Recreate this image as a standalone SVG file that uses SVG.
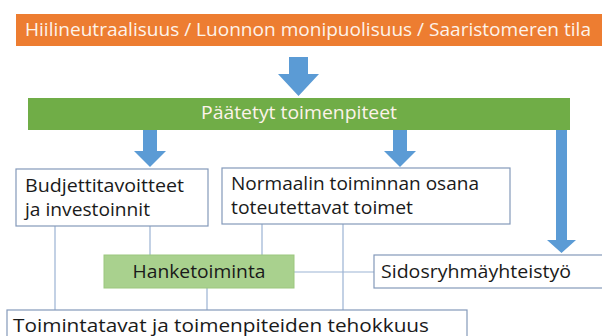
<svg xmlns="http://www.w3.org/2000/svg" width="602" height="336" viewBox="0 0 602 336">
<style>
text{font-family:"Open Sans","Noto Sans","Liberation Sans",sans-serif;}
.box{fill:#ffffff;stroke:#8499BA;stroke-width:1.2;}
.lbl{font-size:18px;fill:#1a1a1a;}
.wl{font-size:17.5px;fill:#fdf3ea;}
.arrow{fill:#5B9BD5;}
.conn{stroke:#9BB3D3;stroke-width:1.2;fill:none;}
</style>
<rect width="602" height="336" fill="#ffffff"/>
<g id="connectors">
<line class="conn" x1="55" y1="226" x2="55" y2="310"/>
<line class="conn" x1="150" y1="226" x2="150" y2="255"/>
<line class="conn" x1="262" y1="224" x2="262" y2="255"/>
<line class="conn" x1="343" y1="224" x2="343" y2="310"/>
<line class="conn" x1="207" y1="288" x2="207" y2="310"/>
<line class="conn" x1="294" y1="272" x2="374" y2="272"/>
<polygon class="arrow" points="289,57 308,57 308,74 319,74 298.5,96 278,74 289,74"/>
<polygon class="arrow" points="143,130 157,130 157,151 166,151 150,167 134,151 143,151"/>
<polygon class="arrow" points="393,130 407,130 407,151 416,151 400,167 384,151 393,151"/>
<polygon class="arrow" points="556,130 567,130 567,240 576,240 561.5,253 547,240 556,240"/>
</g>
<g id="goal">
<rect x="16" y="14" width="590" height="32" fill="#ED7D31"/>
<text class="wl" x="25" y="36" textLength="566" lengthAdjust="spacingAndGlyphs">Hiilineutraalisuus / Luonnon monipuolisuus / Saaristomeren tila</text>
</g>
<g id="decided">
<rect x="28" y="98" width="542" height="32" fill="#70AD47"/>
<text class="wl" x="299" y="119" text-anchor="middle" textLength="196" lengthAdjust="spacingAndGlyphs">Päätetyt toimenpiteet</text>
</g>
<g id="budget">
<rect class="box" x="16" y="169" width="192" height="57"/>
<text class="lbl" x="25" y="192" textLength="159" lengthAdjust="spacingAndGlyphs">Budjettitavoitteet</text>
<text class="lbl" x="25" y="216" textLength="125" lengthAdjust="spacingAndGlyphs">ja investoinnit</text>
</g>
<g id="normal">
<rect class="box" x="222" y="168" width="288" height="56"/>
<text class="lbl" x="231" y="190" textLength="248" lengthAdjust="spacingAndGlyphs">Normaalin toiminnan osana</text>
<text class="lbl" x="231" y="214" textLength="182" lengthAdjust="spacingAndGlyphs">toteutettavat toimet</text>
</g>
<g id="project">
<rect x="104" y="255" width="190" height="33" fill="#A9D18E" stroke="#9CC77E" stroke-width="1"/>
<text class="lbl" x="199" y="278" text-anchor="middle" textLength="133" lengthAdjust="spacingAndGlyphs">Hanketoiminta</text>
</g>
<g id="stakeholder">
<rect class="box" x="374" y="255" width="240" height="33"/>
<text class="lbl" x="381" y="278" textLength="190" lengthAdjust="spacingAndGlyphs">Sidosryhmäyhteistyö</text>
</g>
<g id="practices">
<rect class="box" x="7" y="310" width="460" height="40"/>
<text class="lbl" x="13" y="332" textLength="416" lengthAdjust="spacingAndGlyphs">Toimintatavat ja toimenpiteiden tehokkuus</text>
</g>
</svg>
